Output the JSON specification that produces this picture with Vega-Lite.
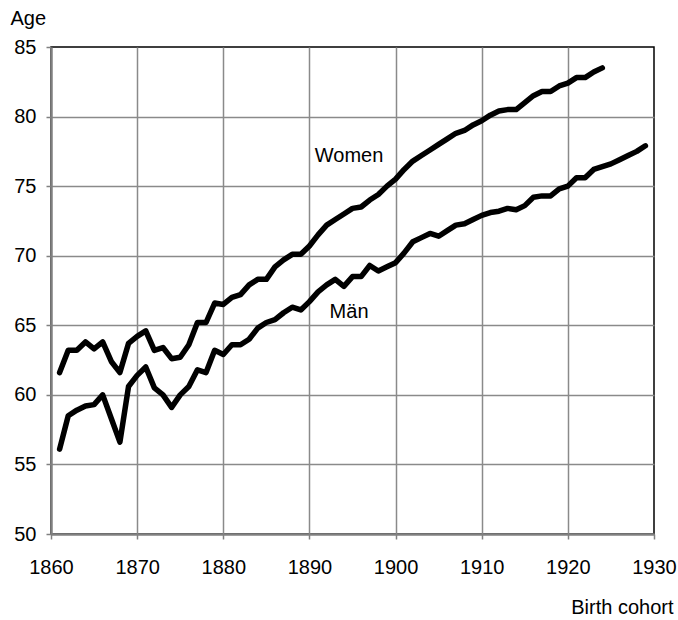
{
  "$schema": "https://vega.github.io/schema/vega-lite/v6.json",
  "autosize": {"type": "none"},
  "padding": {"left": 51, "top": 47, "right": 24, "bottom": 86},
  "width": 603,
  "height": 487,
  "background": "white",
  "config": {
    "font": "Liberation Sans",
    "view": {"stroke": "black", "strokeWidth": 1.5}
  },
  "datasets": {
    "series": [
      {"year": 1861, "sex": "Women", "age": 61.6},
      {"year": 1862, "sex": "Women", "age": 63.2},
      {"year": 1863, "sex": "Women", "age": 63.2},
      {"year": 1864, "sex": "Women", "age": 63.8},
      {"year": 1865, "sex": "Women", "age": 63.3},
      {"year": 1866, "sex": "Women", "age": 63.8},
      {"year": 1867, "sex": "Women", "age": 62.4},
      {"year": 1868, "sex": "Women", "age": 61.6},
      {"year": 1869, "sex": "Women", "age": 63.7},
      {"year": 1870, "sex": "Women", "age": 64.2},
      {"year": 1871, "sex": "Women", "age": 64.6},
      {"year": 1872, "sex": "Women", "age": 63.2},
      {"year": 1873, "sex": "Women", "age": 63.4},
      {"year": 1874, "sex": "Women", "age": 62.6},
      {"year": 1875, "sex": "Women", "age": 62.7},
      {"year": 1876, "sex": "Women", "age": 63.6},
      {"year": 1877, "sex": "Women", "age": 65.2},
      {"year": 1878, "sex": "Women", "age": 65.2},
      {"year": 1879, "sex": "Women", "age": 66.6},
      {"year": 1880, "sex": "Women", "age": 66.5},
      {"year": 1881, "sex": "Women", "age": 67.0},
      {"year": 1882, "sex": "Women", "age": 67.2},
      {"year": 1883, "sex": "Women", "age": 67.9},
      {"year": 1884, "sex": "Women", "age": 68.3},
      {"year": 1885, "sex": "Women", "age": 68.3},
      {"year": 1886, "sex": "Women", "age": 69.2},
      {"year": 1887, "sex": "Women", "age": 69.7},
      {"year": 1888, "sex": "Women", "age": 70.1},
      {"year": 1889, "sex": "Women", "age": 70.1},
      {"year": 1890, "sex": "Women", "age": 70.7},
      {"year": 1891, "sex": "Women", "age": 71.5},
      {"year": 1892, "sex": "Women", "age": 72.2},
      {"year": 1893, "sex": "Women", "age": 72.6},
      {"year": 1894, "sex": "Women", "age": 73.0},
      {"year": 1895, "sex": "Women", "age": 73.4},
      {"year": 1896, "sex": "Women", "age": 73.5},
      {"year": 1897, "sex": "Women", "age": 74.0},
      {"year": 1898, "sex": "Women", "age": 74.4},
      {"year": 1899, "sex": "Women", "age": 75.0},
      {"year": 1900, "sex": "Women", "age": 75.5},
      {"year": 1901, "sex": "Women", "age": 76.2},
      {"year": 1902, "sex": "Women", "age": 76.8},
      {"year": 1903, "sex": "Women", "age": 77.2},
      {"year": 1904, "sex": "Women", "age": 77.6},
      {"year": 1905, "sex": "Women", "age": 78.0},
      {"year": 1906, "sex": "Women", "age": 78.4},
      {"year": 1907, "sex": "Women", "age": 78.8},
      {"year": 1908, "sex": "Women", "age": 79.0},
      {"year": 1909, "sex": "Women", "age": 79.4},
      {"year": 1910, "sex": "Women", "age": 79.7},
      {"year": 1911, "sex": "Women", "age": 80.1},
      {"year": 1912, "sex": "Women", "age": 80.4},
      {"year": 1913, "sex": "Women", "age": 80.5},
      {"year": 1914, "sex": "Women", "age": 80.5},
      {"year": 1915, "sex": "Women", "age": 81.0},
      {"year": 1916, "sex": "Women", "age": 81.5},
      {"year": 1917, "sex": "Women", "age": 81.8},
      {"year": 1918, "sex": "Women", "age": 81.8},
      {"year": 1919, "sex": "Women", "age": 82.2},
      {"year": 1920, "sex": "Women", "age": 82.4},
      {"year": 1921, "sex": "Women", "age": 82.8},
      {"year": 1922, "sex": "Women", "age": 82.8},
      {"year": 1923, "sex": "Women", "age": 83.2},
      {"year": 1924, "sex": "Women", "age": 83.5},
      {"year": 1861, "sex": "Män", "age": 56.1},
      {"year": 1862, "sex": "Män", "age": 58.5},
      {"year": 1863, "sex": "Män", "age": 58.9},
      {"year": 1864, "sex": "Män", "age": 59.2},
      {"year": 1865, "sex": "Män", "age": 59.3},
      {"year": 1866, "sex": "Män", "age": 60.0},
      {"year": 1867, "sex": "Män", "age": 58.3},
      {"year": 1868, "sex": "Män", "age": 56.6},
      {"year": 1869, "sex": "Män", "age": 60.6},
      {"year": 1870, "sex": "Män", "age": 61.4},
      {"year": 1871, "sex": "Män", "age": 62.0},
      {"year": 1872, "sex": "Män", "age": 60.5},
      {"year": 1873, "sex": "Män", "age": 60.0},
      {"year": 1874, "sex": "Män", "age": 59.1},
      {"year": 1875, "sex": "Män", "age": 60.0},
      {"year": 1876, "sex": "Män", "age": 60.6},
      {"year": 1877, "sex": "Män", "age": 61.8},
      {"year": 1878, "sex": "Män", "age": 61.6},
      {"year": 1879, "sex": "Män", "age": 63.2},
      {"year": 1880, "sex": "Män", "age": 62.9},
      {"year": 1881, "sex": "Män", "age": 63.6},
      {"year": 1882, "sex": "Män", "age": 63.6},
      {"year": 1883, "sex": "Män", "age": 64.0},
      {"year": 1884, "sex": "Män", "age": 64.8},
      {"year": 1885, "sex": "Män", "age": 65.2},
      {"year": 1886, "sex": "Män", "age": 65.4},
      {"year": 1887, "sex": "Män", "age": 65.9},
      {"year": 1888, "sex": "Män", "age": 66.3},
      {"year": 1889, "sex": "Män", "age": 66.1},
      {"year": 1890, "sex": "Män", "age": 66.7},
      {"year": 1891, "sex": "Män", "age": 67.4},
      {"year": 1892, "sex": "Män", "age": 67.9},
      {"year": 1893, "sex": "Män", "age": 68.3},
      {"year": 1894, "sex": "Män", "age": 67.8},
      {"year": 1895, "sex": "Män", "age": 68.5},
      {"year": 1896, "sex": "Män", "age": 68.5},
      {"year": 1897, "sex": "Män", "age": 69.3},
      {"year": 1898, "sex": "Män", "age": 68.9},
      {"year": 1899, "sex": "Män", "age": 69.2},
      {"year": 1900, "sex": "Män", "age": 69.5},
      {"year": 1901, "sex": "Män", "age": 70.2},
      {"year": 1902, "sex": "Män", "age": 71.0},
      {"year": 1903, "sex": "Män", "age": 71.3},
      {"year": 1904, "sex": "Män", "age": 71.6},
      {"year": 1905, "sex": "Män", "age": 71.4},
      {"year": 1906, "sex": "Män", "age": 71.8},
      {"year": 1907, "sex": "Män", "age": 72.2},
      {"year": 1908, "sex": "Män", "age": 72.3},
      {"year": 1909, "sex": "Män", "age": 72.6},
      {"year": 1910, "sex": "Män", "age": 72.9},
      {"year": 1911, "sex": "Män", "age": 73.1},
      {"year": 1912, "sex": "Män", "age": 73.2},
      {"year": 1913, "sex": "Män", "age": 73.4},
      {"year": 1914, "sex": "Män", "age": 73.3},
      {"year": 1915, "sex": "Män", "age": 73.6},
      {"year": 1916, "sex": "Män", "age": 74.2},
      {"year": 1917, "sex": "Män", "age": 74.3},
      {"year": 1918, "sex": "Män", "age": 74.3},
      {"year": 1919, "sex": "Män", "age": 74.8},
      {"year": 1920, "sex": "Män", "age": 75.0},
      {"year": 1921, "sex": "Män", "age": 75.6},
      {"year": 1922, "sex": "Män", "age": 75.6},
      {"year": 1923, "sex": "Män", "age": 76.2},
      {"year": 1924, "sex": "Män", "age": 76.4},
      {"year": 1925, "sex": "Män", "age": 76.6},
      {"year": 1926, "sex": "Män", "age": 76.9},
      {"year": 1927, "sex": "Män", "age": 77.2},
      {"year": 1928, "sex": "Män", "age": 77.5},
      {"year": 1929, "sex": "Män", "age": 77.9}
    ],
    "labels": [
      {"year": 1894.6, "age": 76.7, "text": "Women"},
      {"year": 1894.6, "age": 65.5, "text": "Män"}
    ]
  },
  "encoding": {
    "x": {
      "field": "year",
      "type": "quantitative",
      "scale": {"domain": [1860, 1930], "nice": false, "zero": false},
      "axis": {
        "title": "Birth cohort",
        "values": [1860, 1870, 1880, 1890, 1900, 1910, 1920, 1930],
        "format": "d",
        "labelFontSize": 20,
        "labelColor": "black",
        "labelPadding": 18,
        "labelFlush": false,
        "tickSize": 5,
        "tickColor": "#808080",
        "tickWidth": 1.5,
        "domainColor": "#808080",
        "domainWidth": 2.5,
        "grid": true,
        "gridColor": "#8a8a8a",
        "gridWidth": 1.5,
        "gridOpacity": {"condition": {"test": "datum.value === 1930 || datum.value === 1860", "value": 0}, "value": 1},
        "titleFontSize": 20,
        "titleFontWeight": "normal",
        "titleColor": "black",
        "titleAnchor": "end",
        "titleAlign": "right",
        "titleX": 622,
        "titleY": 79,
        "titleBaseline": "alphabetic"
      }
    },
    "y": {
      "field": "age",
      "type": "quantitative",
      "scale": {"domain": [50, 85], "nice": false, "zero": false},
      "axis": {
        "title": "Age",
        "values": [50, 55, 60, 65, 70, 75, 80, 85],
        "labelFontSize": 20,
        "labelColor": "black",
        "labelPadding": 10,
        "labelFlush": false,
        "tickSize": 5,
        "tickColor": "#808080",
        "tickWidth": 1.5,
        "domainColor": "#808080",
        "domainWidth": 2.5,
        "grid": true,
        "gridColor": "#8a8a8a",
        "gridWidth": 1.5,
        "gridOpacity": {"condition": {"test": "datum.value === 85 || datum.value === 50", "value": 0}, "value": 1},
        "titleFontSize": 20,
        "titleFontWeight": "normal",
        "titleColor": "black",
        "titleAngle": 0,
        "titleAlign": "left",
        "titleX": -41,
        "titleY": -23,
        "titleBaseline": "alphabetic"
      }
    }
  },
  "layer": [
    {
      "data": {"name": "series"},
      "mark": {"type": "line", "color": "black", "strokeWidth": 5.5, "strokeJoin": "round", "strokeCap": "round"},
      "encoding": {"detail": {"field": "sex", "type": "nominal"}}
    },
    {
      "data": {"name": "labels"},
      "mark": {"type": "text", "fontSize": 20, "color": "black", "align": "center", "baseline": "alphabetic"},
      "encoding": {"text": {"field": "text", "type": "nominal"}}
    }
  ]
}
